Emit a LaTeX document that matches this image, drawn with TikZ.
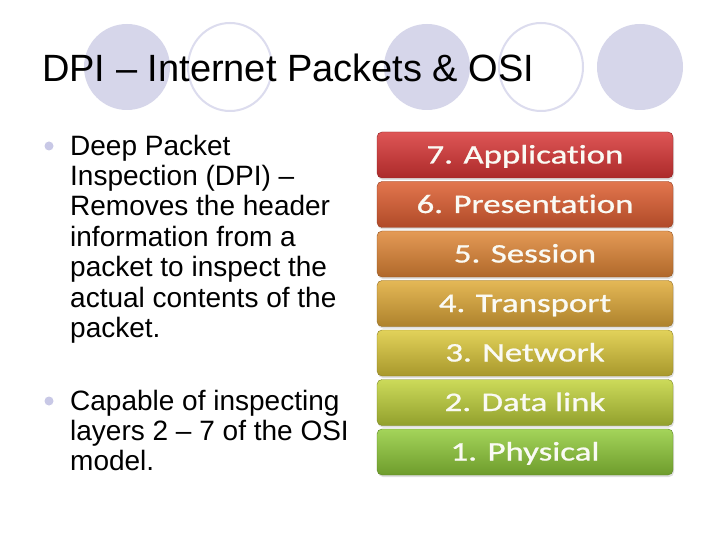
\documentclass[tikz,border=0pt]{standalone}
\usepackage{fontspec}
\setmainfont{Liberation Sans}
\newfontfamily\osifont[Ligatures=NoCommon, FakeBold=0.8]{Carlito}
\usetikzlibrary{shadows}
\definecolor{lav}{HTML}{D6D6EA}
\definecolor{lavline}{HTML}{DCDCEE}
\definecolor{bul}{HTML}{C8C8E6}
\definecolor{cSevT}{HTML}{DE5656}\definecolor{cSevM}{HTML}{D23A3A}\definecolor{cSevB}{HTML}{AC2A2A}
\definecolor{cSixT}{HTML}{E2764E}\definecolor{cSixM}{HTML}{D75E38}\definecolor{cSixB}{HTML}{B04A28}
\definecolor{cFivT}{HTML}{E49A56}\definecolor{cFivM}{HTML}{D9843A}\definecolor{cFivB}{HTML}{B0682A}
\definecolor{cFouT}{HTML}{E4B856}\definecolor{cFouM}{HTML}{D6A23C}\definecolor{cFouB}{HTML}{AE822C}
\definecolor{cThrT}{HTML}{E2D25A}\definecolor{cThrM}{HTML}{D0BC3E}\definecolor{cThrB}{HTML}{A8982C}
\definecolor{cTwoT}{HTML}{CCDA5A}\definecolor{cTwoM}{HTML}{B6C63E}\definecolor{cTwoB}{HTML}{92A02C}
\definecolor{cOneT}{HTML}{A4D45A}\definecolor{cOneM}{HTML}{8CC03C}\definecolor{cOneB}{HTML}{6E9C2C}
\definecolor{ositext}{HTML}{FAFAF4}
\tikzset{
  deco/.style={fill=lav, draw=none},
  decoring/.style={draw=lavline, line width=2bp, fill=none},
  bodytext/.style={anchor=north west, inner sep=0pt, align=left, font=\fontsize{28bp}{30.4bp}\selectfont},
  osibox/.style n args={3}{minimum width=296bp, minimum height=46bp, inner sep=0pt,
     rounded corners=5bp, draw=#3!85!black, line width=0.4bp,
     top color=#1, middle color=#2, bottom color=#3,
     drop shadow={shadow xshift=1bp, shadow yshift=-2bp, opacity=0.25},
     text=ositext, text height=17bp, text depth=0pt,
     font=\osifont\fontsize{26.8bp}{28bp}\selectfont},
}
\newcommand{\osilabel}[1]{\scalebox{1.30}[1]{#1}}
\begin{document}
\begin{tikzpicture}[x=1bp, y=-1bp]
\useasboundingbox (0,0) rectangle (720,540);
\fill[white] (0,0) rectangle (720,540);
% header decorations
\fill[deco] (127,67) circle [radius=43bp];
\draw[decoring] (230,67) ellipse [x radius=42bp, y radius=44bp];
\fill[deco] (427,67) circle [radius=43bp];
\draw[decoring] (541,67) ellipse [x radius=42bp, y radius=44bp];
\fill[deco] (640,67) circle [radius=43bp];
% title
\node[anchor=base west, inner sep=0pt, font=\fontsize{38bp}{40bp}\selectfont] (title) at (42,82) {DPI – Internet Packets \& OSI};
% bullets
\fill[bul] (49,146) circle [radius=4.5bp];
\fill[bul] (49,401) circle [radius=4.5bp];
\node[bodytext] (p1) at (70,134.6) {Deep Packet\\Inspection (DPI) –\\Removes the header\\information from a\\packet to inspect the\\actual contents of the\\packet.};
\node[bodytext] (p2) at (70,389.6) {Capable of inspecting\\layers 2 – 7 of the OSI\\model.};
% OSI layers
\node[osibox={cSevT}{cSevM}{cSevB}] (L7) at (525,155) {\osilabel{7. Application}};
\node[osibox={cSixT}{cSixM}{cSixB}] (L6) at (525,204.5) {\osilabel{6. Presentation}};
\node[osibox={cFivT}{cFivM}{cFivB}] (L5) at (525,254) {\osilabel{5. Session}};
\node[osibox={cFouT}{cFouM}{cFouB}] (L4) at (525,303.5) {\osilabel{4. Transport}};
\node[osibox={cThrT}{cThrM}{cThrB}] (L3) at (525,353) {\osilabel{3. Network}};
\node[osibox={cTwoT}{cTwoM}{cTwoB}] (L2) at (525,402.5) {\osilabel{2. Data link}};
\node[osibox={cOneT}{cOneM}{cOneB}] (L1) at (525,452) {\osilabel{1. Physical}};
\end{tikzpicture}
\end{document}
